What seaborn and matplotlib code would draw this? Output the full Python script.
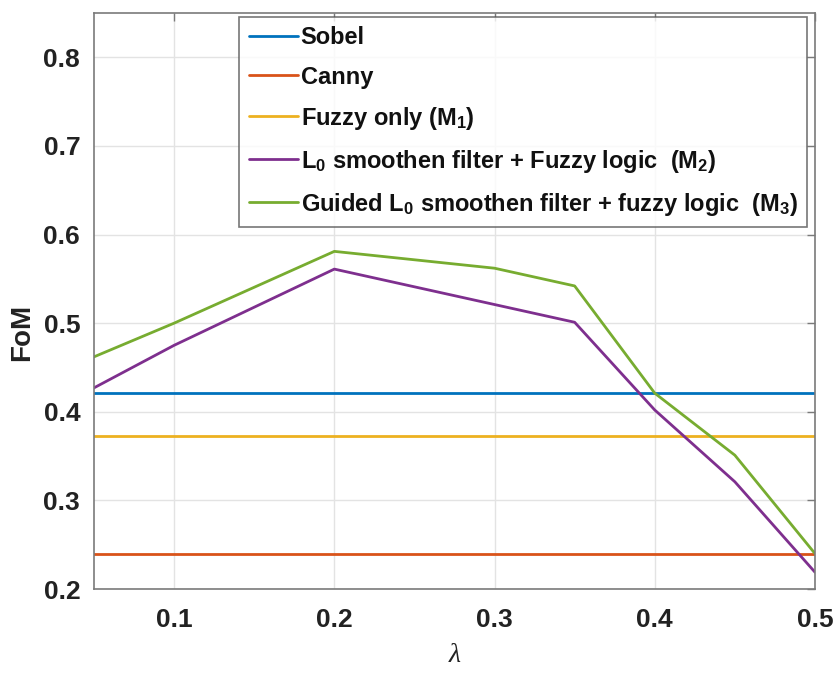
import numpy as np
import pandas as pd
import matplotlib
matplotlib.use("Agg")
import matplotlib.pyplot as plt
import seaborn as sns

lam = [0.05, 0.1, 0.2, 0.3, 0.35, 0.4, 0.45, 0.5]
sobel = [0.421] * len(lam)
canny = [0.240] * len(lam)
fuzzy = [0.373] * len(lam)
m2 = [0.427, 0.475, 0.561, 0.521, 0.501, 0.402, 0.321, 0.219]
m3 = [0.462, 0.500, 0.581, 0.562, 0.542, 0.421, 0.351, 0.240]

names = ["Sobel", "Canny", "Fuzzy only (M$_1$)",
         "L$_0$ smoothen filter + Fuzzy logic  (M$_2$)",
         "Guided L$_0$ smoothen filter + fuzzy logic  (M$_3$)"]
series = [sobel, canny, fuzzy, m2, m3]
colors = ["#0072BD", "#D95319", "#EDB120", "#7E2F8E", "#77AC30"]

df = pd.concat([pd.DataFrame({"lam": lam, "FoM": s, "method": n})
                for n, s in zip(names, series)], ignore_index=True)

sns.set_style("white")
plt.rcParams["font.family"] = ["Liberation Sans", "DejaVu Sans"]
plt.rcParams["font.weight"] = "bold"
plt.rcParams["mathtext.fontset"] = "custom"
plt.rcParams["mathtext.rm"] = "Liberation Sans:bold"
plt.rcParams["mathtext.bf"] = "Liberation Sans:bold"
plt.rcParams["mathtext.it"] = "Liberation Sans:bold"
plt.rcParams["mathtext.default"] = "bf"

fig = plt.figure(figsize=(8.35, 6.73), dpi=100)
ax = fig.add_axes([0.1126, 0.1248, 0.8634, 0.8559])

sns.lineplot(data=df, x="lam", y="FoM", hue="method", hue_order=names,
             palette=colors, linewidth=2.0, ax=ax, legend=True)

ax.set_xlim(0.05, 0.5)
ax.set_ylim(0.2, 0.85)
ax.set_xticks([0.1, 0.2, 0.3, 0.4, 0.5])
ax.set_yticks([0.2, 0.3, 0.4, 0.5, 0.6, 0.7, 0.8])
ax.set_xticklabels(["0.1", "0.2", "0.3", "0.4", "0.5"])
ax.set_yticklabels(["0.2", "0.3", "0.4", "0.5", "0.6", "0.7", "0.8"])
ax.grid(True, color="#e3e3e3", linewidth=1.0)
ax.set_axisbelow(True)
for sp in ax.spines.values():
    sp.set_color("#7a7a7a")
    sp.set_linewidth(1.2)
ax.tick_params(direction="in", length=6, width=1.0, color="#7a7a7a",
               top=True, right=True, labelsize=19, labelcolor="#222222")
ax.tick_params(axis="x", pad=13.5)
ax.tick_params(axis="y", pad=10)
for t in ax.get_xticklabels() + ax.get_yticklabels():
    t.set_fontweight("bold")

ax.set_ylabel("FoM", fontsize=20, fontweight="bold", color="#222222")
ax.yaxis.set_label_coords(-0.082, 0.446)
ax.set_xlabel("λ", fontsize=20, fontstyle="italic", fontweight="normal",
              family=["Liberation Serif", "DejaVu Serif"], color="#222222", labelpad=8)

leg = ax.legend(loc="upper left", bbox_to_anchor=(0.2015, 0.993), fontsize=17,
                frameon=True, fancybox=False, edgecolor="#555555",
                handlelength=2.1, handletextpad=0.1, borderpad=0.4,
                labelspacing=0.68, borderaxespad=0.0)
leg.get_frame().set_linewidth(1.2)
for t in leg.get_texts():
    t.set_fontweight("bold")
    t.set_color("#111111")

fig.savefig("out.png", dpi=100)
